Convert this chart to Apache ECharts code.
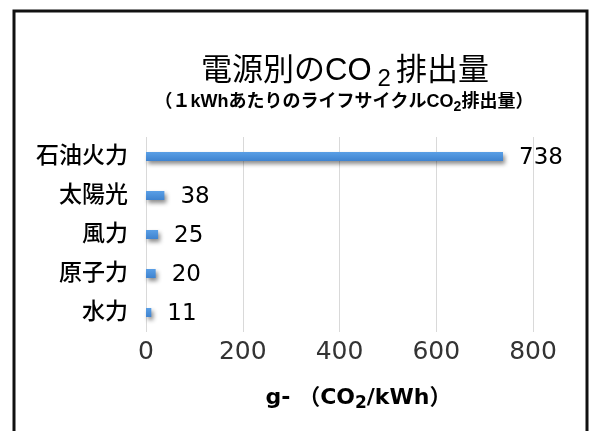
<!DOCTYPE html>
<html>
<head>
<meta charset="utf-8">
<script src="https://cdn.jsdelivr.net/npm/echarts@6/dist/echarts.min.js"></script>
<style>
  html, body { margin: 0; padding: 0; background: #fff; }
  #chart { width: 595px; height: 431px; }
</style>
</head>
<body>
<div id="chart"></div>
<script>
// 電源別のCO2排出量データ
const categories = ['石油火力', '太陽光', '風力', '原子力', '水力'];
const emissions = [738, 38, 25, 20, 11];
const tickValues = [0, 200, 400, 600, 800];

const FONT = '"Liberation Sans", "Noto Sans CJK JP", sans-serif';
const NUM_FONT = '"DejaVu Sans", "Noto Sans CJK JP", sans-serif';

const chartDom = document.getElementById('chart');
const myChart = echarts.init(chartDom);

const option = {
    backgroundColor: '#fff',
    textStyle: { fontFamily: FONT },
    graphic: [
        {
            // 外枠
            type: 'rect',
            shape: { x: 14, y: 11, width: 573, height: 440 },
            style: { fill: 'none', stroke: '#111', lineWidth: 3 },
            silent: true
        }
    ],
    title: [
        {
            text: '電源別のCO{sub|2}排出量',
            left: 340,
            top: 46,
            textAlign: 'center',
            textStyle: {
                fontFamily: FONT,
                fontSize: 31,
                fontWeight: 'normal',
                color: '#000',
                lineHeight: 40,
                rich: {
                    sub: { fontFamily: FONT, fontSize: 24, color: '#000', lineHeight: 32, verticalAlign: 'bottom', padding: [0, 5, 0, 6] }
                }
            }
        },
        {
            text: '（１kWhあたりのライフサイクルCO{sub|2}排出量）',
            left: 339,
            top: 85,
            textAlign: 'center',
            textStyle: {
                fontFamily: FONT,
                fontSize: 18,
                fontWeight: 'bold',
                color: '#000',
                lineHeight: 24,
                rich: {
                    sub: { fontFamily: FONT, fontSize: 14, fontWeight: 'bold', color: '#000', lineHeight: 15, verticalAlign: 'bottom' }
                }
            }
        }
    ],
    grid: {
        left: 146,
        right: 62,
        top: 137,
        bottom: 99,
        containLabel: false
    },
    xAxis: {
        type: 'value',
        min: 0,
        max: 800,
        interval: 200,
        axisLine: { show: false },
        axisTick: { show: false },
        splitLine: { lineStyle: { color: '#d9d9d9', width: 1 } },
        axisLabel: {
            color: '#333',
            fontSize: 25,
            fontFamily: NUM_FONT,
            margin: 8,
            customValues: tickValues
        },
        name: 'g- （CO{sub|2}/kWh）',
        nameLocation: 'middle',
        nameGap: 52,
        nameTextStyle: {
            color: '#000',
            fontSize: 22,
            fontWeight: 'bold',
            fontFamily: NUM_FONT,
            lineHeight: 28,
            padding: [0, 0, 0, 38],
            rich: {
                sub: { fontFamily: NUM_FONT, fontSize: 17, fontWeight: 'bold', color: '#000', lineHeight: 20, verticalAlign: 'bottom' }
            }
        }
    },
    yAxis: {
        type: 'category',
        data: categories,
        inverse: true,
        axisLine: { show: false },
        axisTick: { show: false },
        axisLabel: {
            color: '#000',
            fontSize: 23,
            fontWeight: 500,
            fontFamily: FONT,
            margin: 18
        }
    },
    series: [
        {
            type: 'bar',
            data: emissions,
            barWidth: 9,
            itemStyle: {
                color: new echarts.graphic.LinearGradient(0, 0, 0, 1, [
                    { offset: 0, color: '#5a9fe6' },
                    { offset: 1, color: '#3f83cf' }
                ]),
                shadowColor: 'rgba(0,0,0,0.45)',
                shadowBlur: 4,
                shadowOffsetX: 2,
                shadowOffsetY: 3
            },
            label: {
                show: true,
                position: 'right',
                distance: 16,
                color: '#000',
                fontSize: 23,
                fontFamily: NUM_FONT,
                offset: [0, 2]
            }
        }
    ]
};

option && myChart.setOption(option);
</script>
</body>
</html>
